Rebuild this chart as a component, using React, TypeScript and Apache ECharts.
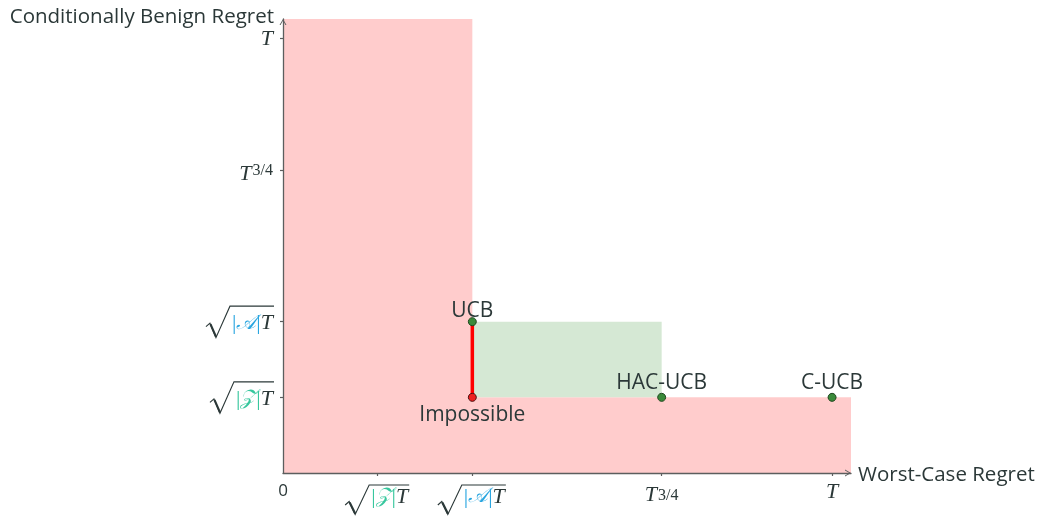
import React, { useEffect, useRef } from 'react';
import * as echarts from 'echarts';

// ---- data ----
const axisMax = 6;
const xTickValues = [0, 1, 2, 4, 5.8];
const xTickKinds = ['zero', 'sqrtZ', 'sqrtA', 'T34', 'T'];
const yTickValues = [1, 2, 4, 5.75];
const yTickKinds = ['sqrtZ', 'sqrtA', 'T34', 'T'];
const xAxisName = 'Worst-Case Regret';
const yAxisName = 'Conditionally Benign Regret';
const redRegions = [
  [[0, 0], [2, 6]],
  [[0, 0], [6, 1]],
];
const greenRegion = [[2, 1], [4, 2]];
const impossibleSegment = [[2, 1], [2, 2]];
const algorithmNames = ['UCB', 'HAC-UCB', 'C-UCB'];
const algorithmPoints = [[2, 2], [4, 1], [5.8, 1]];
const impossiblePoint = [2, 1];
const impossibleName = 'Impossible';

// ---- styles ----
const SERIF = '"Liberation Serif", "DejaVu Serif", serif';
const SCRIPT = '"DejaVu Sans", "Noto Sans", sans-serif';
const SANS = '"Open Sans", sans-serif';
const TXT = '#2b3838';
const AXIS = '#5c5e5e';
const BLUE = '#2aa6e0';
const TEAL = '#38c79e';
const MF = 22;
const MLH = 18;
const SUPF = 16;
const XMARGIN = 8;
const YMARGIN = 10;
const SQ_PAD = 10;
const T34_PAD = 6;
const RAD_W = 24;
const LABEL_F = 21;

const letters: Record<string, { ch: string; color: string }> = {
  sqrtZ: { ch: '\u{1D4B5}', color: TEAL },
  sqrtA: { ch: '\u{1D49C}', color: BLUE },
};

function rich(padTop: number, padLeft: number, color: string) {
  return {
    b0: { fontFamily: SERIF, fontSize: MF, lineHeight: MLH, color, padding: [padTop, 0, 0, padLeft] },
    l: { fontFamily: SCRIPT, fontStyle: 'italic', fontSize: MF - 1, lineHeight: MLH, color, padding: [padTop, 0, 0, 0] },
    b: { fontFamily: SERIF, fontSize: MF, lineHeight: MLH, color, padding: [padTop, 0, 0, 0] },
    t: { fontFamily: SERIF, fontStyle: 'italic', fontSize: MF, lineHeight: MLH, color: TXT, padding: [padTop, 0, 0, 0] },
  };
}

const baseRich: any = {
  t: { fontFamily: SERIF, fontStyle: 'italic', fontSize: MF, lineHeight: MLH, color: TXT },
  zero: { fontFamily: SANS, fontSize: 17, lineHeight: 16, color: TXT },
};
function addRich(prefix: string, padTop: number, padLeft: number) {
  for (const k of ['sqrtZ', 'sqrtA']) {
    const r: any = rich(padTop, padLeft, letters[k].color);
    for (const n of Object.keys(r)) baseRich[prefix + k + n] = r[n];
  }
}
addRich('x', SQ_PAD, RAD_W);
addRich('y', 0, 0);
baseRich.xt34 = { fontFamily: SERIF, fontStyle: 'italic', fontSize: MF, lineHeight: MLH, color: TXT, padding: [T34_PAD, 0, 0, 0] };
baseRich.xs34 = { fontFamily: SERIF, fontSize: SUPF, lineHeight: 14, color: TXT, padding: [T34_PAD - 1, 0, 0, 1], verticalAlign: 'top' };
baseRich.yt34 = { fontFamily: SERIF, fontStyle: 'italic', fontSize: MF, lineHeight: MLH, color: TXT, padding: [4, 0, 0, 0] };
baseRich.ys34 = { fontFamily: SERIF, fontSize: SUPF, lineHeight: 14, color: TXT, padding: [0, 0, 0, 1], verticalAlign: 'top' };

function labelFor(kind: string, p: string) {
  if (kind === 'zero') return '{zero|0}';
  if (kind === 'T') return '{t|T}';
  if (kind === 'T34') return `{${p}t34|T}{${p}s34|3/4}`;
  const L = letters[kind].ch;
  const q = p + kind;
  return `{${q}b0||}{${q}l|${L}}{${q}b||}{${q}t|T}`;
}

function makeMeasure() {
  const ctx = document.createElement('canvas').getContext('2d')!;
  return (text: string, font: string) => {
    ctx.font = font;
    return ctx.measureText(text).width;
  };
}

const pointLabel = {
  show: true,
  formatter: '{b}',
  fontFamily: SANS,
  fontSize: LABEL_F,
  color: TXT,
  opacity: 1,
  textBorderWidth: 0,
};

const App = () => {
  const ref = useRef<HTMLDivElement>(null);
  useEffect(() => {
    const el = ref.current!;
    const chart = echarts.init(el, null, { renderer: 'svg' });
    const arrow = 'path://M0,6 L3.5,0 L7,6 L6,6 L3.5,1.7 L1,6 Z';
    const option: any = {
      animation: false,
      grid: { left: 283, right: 187, top: 19, bottom: 44, containLabel: false },
      xAxis: {
        type: 'value',
        min: 0,
        max: axisMax,
        z: 10,
        name: xAxisName,
        nameLocation: 'end',
        nameGap: 7,
        nameTextStyle: { fontFamily: SANS, fontSize: 20.5, color: TXT, verticalAlign: 'middle', padding: [0, 0, 3, 0] },
        splitLine: { show: false },
        axisLine: {
          onZero: false,
          lineStyle: { color: AXIS, width: 1.3 },
          symbol: ['none', arrow],
          symbolSize: [7, 6],
          symbolOffset: [0, -3],
        },
        axisTick: { show: true, length: 3, lineStyle: { color: AXIS, width: 1.2 }, customValues: xTickValues.slice(1) },
        axisLabel: {
          show: true,
          margin: XMARGIN,
          customValues: xTickValues,
          formatter: (v: number) => {
            const i = xTickValues.indexOf(v);
            return i < 0 ? '' : labelFor(xTickKinds[i], 'x');
          },
          rich: baseRich,
        },
      },
      yAxis: {
        type: 'value',
        min: 0,
        max: axisMax,
        z: 10,
        name: yAxisName,
        nameLocation: 'end',
        nameGap: 4,
        nameTextStyle: {
          fontFamily: SANS,
          fontSize: 20.5,
          lineHeight: 20,
          color: TXT,
          align: 'right',
          verticalAlign: 'middle',
          padding: [0, 9, 0, 0],
        },
        splitLine: { show: false },
        axisLine: {
          show: true,
          onZero: false,
          lineStyle: { color: AXIS, width: 1.3 },
          symbol: ['none', arrow],
          symbolSize: [7, 6],
          symbolOffset: [0, -3],
        },
        axisTick: { show: true, length: 3, lineStyle: { color: AXIS, width: 1.2 }, customValues: yTickValues },
        axisLabel: {
          show: true,
          margin: YMARGIN,
          customValues: yTickValues,
          formatter: (v: number) => {
            const i = yTickValues.indexOf(v);
            return i < 0 ? '' : labelFor(yTickKinds[i], 'y');
          },
          rich: baseRich,
        },
      },
      series: [
        {
          type: 'scatter',
          data: [],
          silent: true,
          z: 1,
          markArea: {
            silent: true,
            itemStyle: { color: '#ffcccc', opacity: 1 },
            data: redRegions.map((r) => [{ coord: r[0] }, { coord: r[1] }]),
          },
        },
        {
          type: 'scatter',
          data: [],
          silent: true,
          z: 1,
          markArea: {
            silent: true,
            itemStyle: { color: '#d5e8d4', opacity: 1 },
            data: [[{ coord: greenRegion[0] }, { coord: greenRegion[1] }]],
          },
        },
        {
          type: 'line',
          data: impossibleSegment,
          z: 3,
          symbol: 'none',
          lineStyle: { color: '#ff0000', width: 3.5 },
          silent: true,
        },
        {
          type: 'scatter',
          z: 5,
          symbolSize: 8,
          itemStyle: { color: '#ee2020', borderColor: '#4a1010', borderWidth: 1, opacity: 1 },
          data: [{ value: impossiblePoint, name: impossibleName }],
          label: { ...pointLabel, position: 'bottom', distance: 1 },
        },
        {
          type: 'scatter',
          z: 5,
          symbolSize: 8,
          itemStyle: { color: '#3a8a3a', borderColor: '#1e461e', borderWidth: 1, opacity: 1 },
          data: algorithmPoints.map((p, i) => ({
            value: p,
            name: algorithmNames[i],
            label: { distance: i === 0 ? -2 : 1 },
          })),
          label: { ...pointLabel, position: 'top', distance: 1 },
        },
      ],
    };
    chart.setOption(option);

    // radical signs for the square-root tick labels
    const measure = makeMeasure();
    const contentWidth = (kind: string) => {
      const bar = measure('|', `normal normal ${MF}px ${SERIF}`);
      const l = measure(letters[kind].ch, `italic normal ${MF - 1}px ${SCRIPT}`);
      const t = measure('T', `italic normal ${MF}px ${SERIF}`);
      return 2 * bar + l + t;
    };
    const radical = (L: number, R: number, cy: number, top: number, bottom: number) => [
      {
        type: 'polyline',
        z: 20,
        silent: true,
        shape: { points: [[L - 26, cy + 5], [L - 22, cy + 1.5], [L - 16, bottom], [L - 2, top], [R, top]] },
        style: { stroke: TXT, lineWidth: 1.1, fill: null },
      },
      {
        type: 'line',
        z: 20,
        silent: true,
        shape: { x1: L - 21.5, y1: cy + 2.5, x2: L - 16, y2: bottom - 1 },
        style: { stroke: TXT, lineWidth: 2.2 },
      },
    ];
    const elements: any[] = [];
    const origin = chart.convertToPixel({ gridIndex: 0 }, [0, 0]) as number[];
    yTickValues.forEach((v, i) => {
      const k = yTickKinds[i];
      if (!letters[k]) return;
      const p = chart.convertToPixel({ gridIndex: 0 }, [0, v]) as number[];
      const R = origin[0] - YMARGIN;
      const W = contentWidth(k);
      const L = R - W;
      elements.push(...radical(L, R + 1, p[1], p[1] - 15.5, p[1] + 16));
    });
    xTickValues.forEach((v, i) => {
      const k = xTickKinds[i];
      if (!letters[k]) return;
      const p = chart.convertToPixel({ gridIndex: 0 }, [v, 0]) as number[];
      const W = contentWidth(k);
      const L = p[0] - (W + RAD_W) / 2 + RAD_W;
      const cy = origin[1] + XMARGIN + SQ_PAD + MLH / 2;
      elements.push(...radical(L, L + W + 1, cy, cy - 15, cy + 14.5));
    });
    chart.setOption({ graphic: { elements } });

    return () => chart.dispose();
  }, []);
  return <div ref={ref} style={{ position: 'fixed', left: 0, top: 0, width: 1038, height: 517 }} />;
};

export default App;
